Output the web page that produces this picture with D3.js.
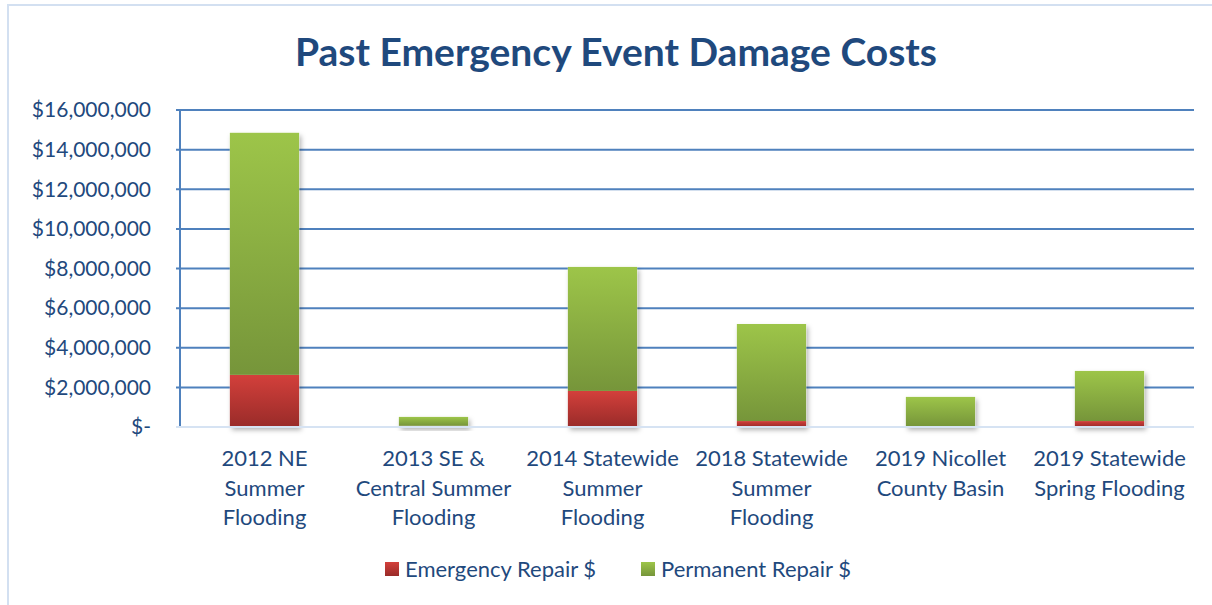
<!DOCTYPE html>
<html lang="en">
<head>
  <meta charset="UTF-8">
  <title>Past Emergency Event Damage Costs</title>
  <script src="https://cdnjs.cloudflare.com/ajax/libs/d3/7.8.5/d3.min.js"></script>
  <style>
    body { margin: 0; padding: 0; background: #fff; }
    svg { display: block; font-family: Lato, "Open Sans", sans-serif; }
  </style>
</head>
<body>
<svg id="chart" width="1212" height="605"></svg>
<script>
  // Data
  const categories = ["2012 NE", "2013 SE", "2014 Statewide", "2018 Statewide", "2019 Nicollet", "2019 Statewide"];
  const categoryLines = [
    ["2012 NE", "Summer", "Flooding"],
    ["2013 SE &", "Central Summer", "Flooding"],
    ["2014 Statewide", "Summer", "Flooding"],
    ["2018 Statewide", "Summer", "Flooding"],
    ["2019 Nicollet", "County Basin"],
    ["2019 Statewide", "Spring Flooding"]
  ];
  const emergencyRepair = [2630000, 60000, 1820000, 300000, 30000, 300000];
  const permanentRepair = [12220000, 450000, 6260000, 4900000, 1490000, 2530000];
  const seriesNames = ["Emergency Repair $", "Permanent Repair $"];
  const yTicks = [0, 2000000, 4000000, 6000000, 8000000, 10000000, 12000000, 14000000, 16000000];

  const svg = d3.select("#chart");
  const textColor = "#1f497d";
  const margin = { left: 180, right: 18, top: 110, bottom: 178 };
  const width = 1212, height = 605;

  // outer chart border (runs off the right and bottom edges)
  svg.append("rect")
    .attr("x", 8).attr("y", 5)
    .attr("width", 1220).attr("height", 620)
    .attr("fill", "none")
    .attr("stroke", "#d3e0f1")
    .attr("stroke-width", 2);

  const defs = svg.append("defs");
  function grad(id, top, bottom) {
    const g = defs.append("linearGradient").attr("id", id)
      .attr("x1", 0).attr("y1", 0).attr("x2", 0).attr("y2", 1);
    g.append("stop").attr("offset", "0%").attr("stop-color", top);
    g.append("stop").attr("offset", "100%").attr("stop-color", bottom);
  }
  grad("gRed", "#d3403b", "#992b29");
  grad("gGreen", "#9dc549", "#76953a");
  const shadow = defs.append("filter").attr("id", "shadow")
    .attr("x", "-20%").attr("y", "-20%").attr("width", "150%").attr("height", "150%");
  shadow.append("feDropShadow")
    .attr("dx", 2).attr("dy", 3).attr("stdDeviation", 2.5)
    .attr("flood-color", "#000").attr("flood-opacity", 0.3);

  const x = d3.scaleBand()
    .domain(categories)
    .range([margin.left, width - margin.right])
    .paddingInner(0.59)
    .paddingOuter(0.295);
  const y = d3.scaleLinear()
    .domain([0, 16000000])
    .range([height - margin.bottom, margin.top]);

  // title
  svg.append("text")
    .attr("x", 616).attr("y", 66)
    .attr("text-anchor", "middle")
    .attr("font-weight", "bold")
    .attr("font-size", 39)
    .attr("fill", textColor)
    .text("Past Emergency Event Damage Costs");

  // gridlines
  svg.append("g").selectAll("line")
    .data(yTicks.filter(d => d > 0))
    .join("line")
    .attr("x1", margin.left - 4).attr("x2", width - margin.right)
    .attr("y1", d => y(d)).attr("y2", d => y(d))
    .attr("stroke", "#4f81bd")
    .attr("stroke-width", 2);

  // y axis line
  svg.append("line")
    .attr("x1", margin.left).attr("x2", margin.left)
    .attr("y1", y(16000000)).attr("y2", y(0))
    .attr("stroke", "#4f81bd").attr("stroke-width", 2);

  // y tick labels
  const fmt = d => d === 0 ? "$-" : "$" + d3.format(",")(d);
  svg.append("g").selectAll("text")
    .data(yTicks)
    .join("text")
    .attr("x", 151)
    .attr("y", d => y(d))
    .attr("dy", "0.35em")
    .attr("text-anchor", "end")
    .attr("font-size", 21)
    .attr("fill", textColor)
    .text(fmt);

  // stacked bars
  const stackData = categories.map((c, i) => ({ cat: c, e: emergencyRepair[i], p: permanentRepair[i] }));
  const stack = d3.stack().keys(["e", "p"])(stackData);
  const fills = ["url(#gRed)", "url(#gGreen)"];

  // shadow behind the whole bar
  svg.append("g").selectAll("rect")
    .data(stackData)
    .join("rect")
    .attr("x", d => x(d.cat))
    .attr("y", d => y(d.e + d.p))
    .attr("width", x.bandwidth())
    .attr("height", d => y(0) - y(d.e + d.p))
    .attr("fill", "#fff")
    .attr("filter", "url(#shadow)");

  svg.append("g").selectAll("g")
    .data(stack)
    .join("g")
    .attr("fill", (d, i) => fills[i])
    .selectAll("rect")
    .data(d => d)
    .join("rect")
    .attr("x", d => x(d.data.cat))
    .attr("y", d => y(d[1]))
    .attr("width", x.bandwidth())
    .attr("height", d => y(d[0]) - y(d[1]));

  // baseline
  svg.append("line")
    .attr("x1", margin.left - 4).attr("x2", width - margin.right)
    .attr("y1", y(0)).attr("y2", y(0))
    .attr("stroke", "#d6e3f3")
    .attr("stroke-width", 2);

  // category labels
  const labels = svg.append("g").selectAll("text")
    .data(categories)
    .join("text")
    .attr("text-anchor", "middle")
    .attr("font-size", 22)
    .attr("fill", textColor);
  labels.selectAll("tspan")
    .data((d, i) => categoryLines[i].map(t => ({ t, cat: d })))
    .join("tspan")
    .attr("x", d => x(d.cat) + x.bandwidth() / 2)
    .attr("y", (d, j) => 466 + j * 29.5)
    .text(d => d.t);

  // legend
  const legendX = [385, 641];
  const legend = svg.append("g").selectAll("g")
    .data(seriesNames)
    .join("g")
    .attr("transform", (d, i) => `translate(${legendX[i]},562)`);
  legend.append("rect")
    .attr("width", 14).attr("height", 14)
    .attr("fill", (d, i) => fills[i]);
  legend.append("text")
    .attr("x", 20).attr("y", 15)
    .attr("font-size", 22)
    .attr("fill", textColor)
    .text(d => d);
</script>
</body>
</html>
